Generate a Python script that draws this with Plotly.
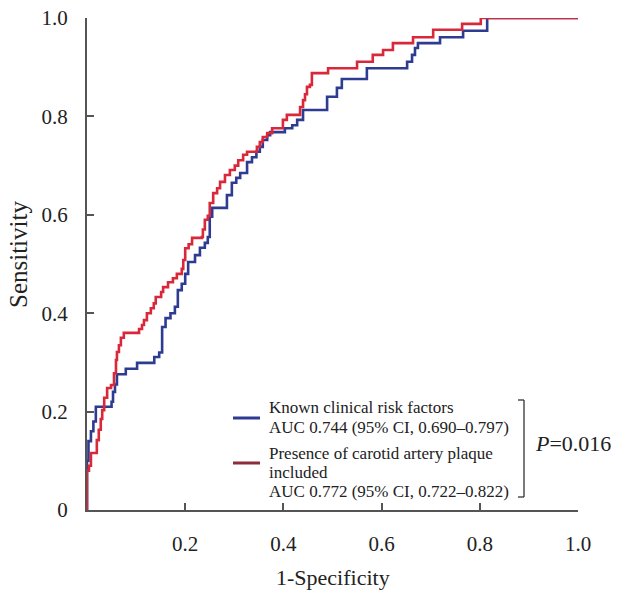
import plotly.graph_objects as go

# ROC step vertices (1-specificity, sensitivity); curve rises to y at x
blue_fpr = [0, 0, 0.003, 0.008, 0.013, 0.018, 0.05, 0.053, 0.057, 0.061, 0.079, 0.102, 0.137,
            0.147, 0.153, 0.16, 0.17, 0.179, 0.185, 0.193, 0.2, 0.206, 0.22, 0.23, 0.24, 0.246,
            0.25, 0.255, 0.285, 0.295, 0.304, 0.312, 0.326, 0.336, 0.345, 0.352, 0.358, 0.367,
            0.373, 0.403, 0.418, 0.428, 0.44, 0.489, 0.509, 0.519, 0.57, 0.652, 0.662, 0.668,
            0.674, 0.719, 0.766, 0.815, 1.0]
blue_tpr = [0, 0.10, 0.14, 0.16, 0.18, 0.21, 0.22, 0.24, 0.255, 0.276, 0.287, 0.299, 0.311,
            0.32, 0.372, 0.39, 0.40, 0.413, 0.447, 0.46, 0.48, 0.504, 0.518, 0.533, 0.543, 0.555,
            0.596, 0.614, 0.64, 0.665, 0.675, 0.685, 0.707, 0.717, 0.728, 0.738, 0.752, 0.762,
            0.768, 0.776, 0.782, 0.793, 0.813, 0.84, 0.858, 0.876, 0.898, 0.911, 0.925, 0.939,
            0.949, 0.961, 0.974, 1.0, 1.0]

red_fpr = [0, 0, 0.004, 0.008, 0.02, 0.024, 0.028, 0.031, 0.035, 0.041, 0.049, 0.055, 0.059,
           0.061, 0.065, 0.069, 0.075, 0.106, 0.112, 0.116, 0.122, 0.13, 0.136, 0.14, 0.151,
           0.155, 0.165, 0.175, 0.183, 0.193, 0.196, 0.2, 0.207, 0.214, 0.234, 0.236, 0.24,
           0.246, 0.25, 0.257, 0.265, 0.271, 0.281, 0.291, 0.301, 0.308, 0.318, 0.326, 0.346,
           0.352, 0.358, 0.367, 0.377, 0.399, 0.407, 0.434, 0.44, 0.444, 0.448, 0.454, 0.458,
           0.491, 0.55, 0.582, 0.603, 0.623, 0.664, 0.705, 0.764, 0.802, 1.0]
red_tpr = [0, 0.08, 0.09, 0.116, 0.142, 0.163, 0.185, 0.203, 0.228, 0.248, 0.254, 0.278, 0.305,
           0.321, 0.335, 0.35, 0.36, 0.368, 0.376, 0.386, 0.40, 0.41, 0.42, 0.433, 0.443,
           0.453, 0.463, 0.471, 0.48, 0.49, 0.508, 0.532, 0.54, 0.553, 0.555, 0.57, 0.59,
           0.598, 0.624, 0.644, 0.654, 0.667, 0.681, 0.691, 0.70, 0.711, 0.722, 0.728, 0.738,
           0.748, 0.758, 0.766, 0.776, 0.793, 0.803, 0.819, 0.833, 0.845, 0.86, 0.864, 0.888,
           0.898, 0.911, 0.925, 0.935, 0.949, 0.961, 0.976, 0.988, 1.0, 1.0]

tick_vals_x = [0.2, 0.4, 0.6, 0.8, 1.0]
tick_text_x = ["0.2", "0.4", "0.6", "0.8", "1.0"]
tick_vals_y = [0, 0.2, 0.4, 0.6, 0.8, 1.0]
tick_text_y = ["0", "0.2", "0.4", "0.6", "0.8", "1.0"]

x_title = "1-Specificity"
y_title = "Sensitivity"
legend_lines = [
    ["Known clinical risk factors", "AUC 0.744 (95% CI, 0.690\u20130.797)"],
    ["Presence of carotid artery plaque", "included", "AUC 0.772 (95% CI, 0.722\u20130.822)"],
]
p_text = "<i>P</i>=0.016"

BLUE = "#2d3b91"
RED = "#d8283a"
BLUE_LEG = "#2d3b91"
RED_LEG = "#8c2d3e"
FONT = "Liberation Serif"
AX = "#555555"
TXT = "#222222"

fig = go.Figure()
fig.add_trace(go.Scatter(x=blue_fpr, y=blue_tpr, mode="lines", line=dict(color=BLUE, width=2.6, shape="hv"),
                         showlegend=False, cliponaxis=False))
fig.add_trace(go.Scatter(x=red_fpr, y=red_tpr, mode="lines", line=dict(color=RED, width=2.6, shape="hv"),
                         showlegend=False, cliponaxis=False))

W, H = 617, 590
L, R, T, B = 87, 39, 18, 80
pw, ph = W - L - R, H - T - B

def px2x(px):
    return (px - L) / pw

def py2y(py):
    return (H - B - py) / ph

# legend samples
for py, col in [(418, BLUE_LEG), (463, RED_LEG)]:
    fig.add_shape(type="line", xref="paper", yref="paper", x0=px2x(233), x1=px2x(260),
                  y0=py2y(py), y1=py2y(py), line=dict(color=col, width=3))

text_rows = [(407, legend_lines[0][0]), (427, legend_lines[0][1]),
             (453, legend_lines[1][0]), (472, legend_lines[1][1]), (491, legend_lines[1][2])]
for py, t in text_rows:
    fig.add_annotation(xref="paper", yref="paper", x=px2x(267), y=py2y(py), text=t, showarrow=False,
                       xanchor="left", yanchor="middle", font=dict(family=FONT, size=17, color=TXT))

# bracket
bx = px2x(524)
fig.add_shape(type="line", xref="paper", yref="paper", x0=bx, x1=bx, y0=py2y(400), y1=py2y(497),
              line=dict(color="#333", width=1.3))
for py in (400, 497):
    fig.add_shape(type="line", xref="paper", yref="paper", x0=px2x(518), x1=bx, y0=py2y(py), y1=py2y(py),
                  line=dict(color="#333", width=1.3))
fig.add_annotation(xref="paper", yref="paper", x=px2x(533), y=py2y(443), text=p_text, showarrow=False,
                   xanchor="left", yanchor="middle", font=dict(family=FONT, size=22, color=TXT))

# axis titles
fig.add_annotation(xref="paper", yref="paper", x=px2x(333), y=py2y(577), text=x_title, showarrow=False,
                   xanchor="center", yanchor="middle", font=dict(family=FONT, size=22, color=TXT))
fig.add_annotation(xref="paper", yref="paper", x=px2x(18), y=py2y(255), text=y_title, showarrow=False,
                   textangle=-90, xanchor="center", yanchor="middle", font=dict(family=FONT, size=25, color=TXT))

fig.update_layout(
    width=W, height=H, margin=dict(l=L, r=R, t=T, b=B, autoexpand=False),
    paper_bgcolor="white", plot_bgcolor="white",
    font=dict(family=FONT, size=21, color=TXT),
    xaxis=dict(range=[0, 1], tickvals=tick_vals_x, ticktext=tick_text_x, ticks="inside", ticklen=7,
               tickcolor=AX, tickwidth=1.5, showline=True, linecolor=AX, linewidth=2, showgrid=False,
               zeroline=False, ticklabelstandoff=14, automargin=False, ticklabeloverflow="allow"),
    yaxis=dict(range=[0, 1], tickvals=tick_vals_y, ticktext=tick_text_y, ticks="inside", ticklen=7,
               tickcolor=AX, tickwidth=1.5, showline=True, linecolor=AX, linewidth=2, showgrid=False,
               zeroline=False, ticklabelstandoff=13, automargin=False, ticklabeloverflow="allow"),
)

fig.write_html("out.html", config={"displayModeBar": False},
               post_script="document.body.style.margin='0';document.body.style.overflow='hidden';")
